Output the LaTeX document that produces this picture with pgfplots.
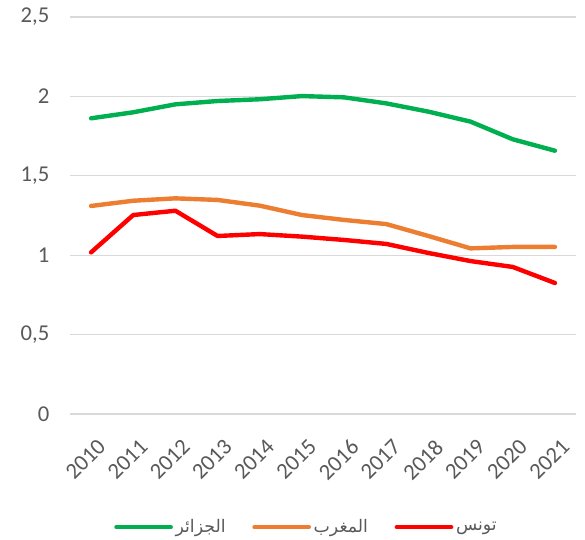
\documentclass[border=0pt]{standalone}
\usepackage{fontspec}
\setmainfont{Carlito}
\newfontfamily\arabicfont[Script=Arabic]{DejaVu Sans}
\TeXXeTstate=1
\usepackage{pgfplots}
\pgfplotsset{compat=1.18}
\definecolor{dz}{HTML}{00B050}
\definecolor{ma}{HTML}{ED7D31}
\definecolor{tn}{HTML}{FF0000}
\definecolor{txt}{HTML}{595959}
\definecolor{gridc}{HTML}{D9D9D9}
\begin{document}
\begin{tikzpicture}
\path[use as bounding box] (0,0) rectangle (438.75pt,404.25pt);
\begin{axis}[
  at={(52.5pt,93.75pt)}, anchor=south west,
  scale only axis,
  width=379.5pt, height=297.75pt,
  xmin=-0.5, xmax=11.5,
  ymin=0, ymax=2.5,
  xtick={0,...,11},
  xticklabels={2010,2011,2012,2013,2014,2015,2016,2017,2018,2019,2020,2021},
  ytick={0,0.5,1,1.5,2,2.5},
  yticklabels={0,{0,5},1,{1,5},2,{2,5}},
  axis line style={draw=none},
  major tick length=0pt,
  xmajorgrids=false,
  ymajorgrids,
  grid style={draw=gridc, line width=1pt},
  tick label style={font=\fontsize{17}{19}\selectfont, text=txt},
  yticklabel style={xshift=-12pt},
  xticklabel style={xshift=4pt, yshift=-13pt, rotate=45, anchor=north east},
  /pgf/number format/assume math mode=true,
  legend style={
    at={(0.468,-0.285)}, anchor=center,
    draw=none, fill=none,
    font=\fontsize{13}{15}\selectfont\arabicfont, text=txt,
    legend columns=3,
    /tikz/every even column/.append style={column sep=18pt},
  },
  legend image code/.code={\draw[#1, line width=3pt] (0pt,0pt) -- (41pt,0pt);},
  every axis plot/.append style={line width=3.3pt, line cap=round, line join=round},
]
\addplot[dz] coordinates {
  (0,1.862) (1,1.900) (2,1.950) (3,1.971) (4,1.982) (5,2.002)
  (6,1.994) (7,1.956) (8,1.904) (9,1.841) (10,1.730) (11,1.658)
};
\addlegendentry{\beginR الجزائر\endR}
\addplot[ma] coordinates {
  (0,1.310) (1,1.343) (2,1.358) (3,1.348) (4,1.312) (5,1.253)
  (6,1.222) (7,1.196) (8,1.121) (9,1.043) (10,1.052) (11,1.052)
};
\addlegendentry{\beginR المغرب\endR}
\addplot[tn] coordinates {
  (0,1.018) (1,1.253) (2,1.280) (3,1.121) (4,1.133) (5,1.117)
  (6,1.096) (7,1.071) (8,1.014) (9,0.963) (10,0.926) (11,0.825)
};
\addlegendentry{\beginR تونس\endR}
\end{axis}
\end{tikzpicture}
\end{document}
